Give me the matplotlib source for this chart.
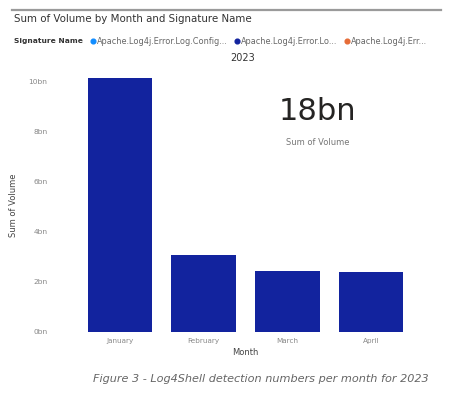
import matplotlib.pyplot as plt
from matplotlib.lines import Line2D

months = ["January", "February", "March", "April"]
volume_bn = [10.1, 3.07, 2.44, 2.40]
yticks_bn = [0, 2, 4, 6, 8, 10]
legend_names = ["Apache.Log4j.Error.Log.Config...", "Apache.Log4j.Error.Lo...", "Apache.Log4j.Err..."]
legend_colors = ["#118DFF", "#12239E", "#E66C37"]
total_label = "18bn"

W, H = 453, 395
fig = plt.figure(figsize=(W / 100, H / 100), dpi=100)
fig.patch.set_facecolor("white")

def fx(px):
    return px / W

def fy(py):
    return 1 - py / H

# top separator line
fig.add_artist(Line2D([fx(12), fx(441)], [fy(9.5), fy(9.5)], color="#9a9a9a", lw=1.6))

fig.text(fx(14), fy(19), "Sum of Volume by Month and Signature Name",
         fontsize=7.4, color="#333333", va="center", ha="left")

# legend row
fig.text(fx(14), fy(41), "Signature Name", fontsize=5.4, color="#333333",
         fontweight="bold", va="center", ha="left")
xs = [93, 237, 347]
for x, name, c in zip(xs, legend_names, legend_colors):
    fig.add_artist(Line2D([fx(x)], [fy(41)], marker="o", ms=3.4, color=c, lw=0))
    fig.text(fx(x + 4), fy(41), name, fontsize=5.9, color="#666666", va="center", ha="left")

fig.text(fx(243), fy(58), "2023", fontsize=7, color="#333333", va="center", ha="center")

# axes: y=0 at 332px, 25.1 px per bn
ymax = 10.3
px_per_bn = 25.1
ax = fig.add_axes([fx(78), fy(332), fx(413) - fx(78), ymax * px_per_bn / H])
ax.bar(range(len(months)), volume_bn, width=0.77, color="#12239E")
ax.set_ylim(0, ymax)
ax.set_xlim(-0.5, 3.5)
ax.set_yticks(yticks_bn)
ax.set_yticklabels([f"{v}bn" for v in yticks_bn])
ax.set_xticks(range(len(months)))
ax.set_xticklabels(months)
ax.tick_params(axis="both", length=0, labelcolor="#888888")
ax.tick_params(axis="y", pad=22, labelsize=5.4)
ax.tick_params(axis="x", pad=4, labelsize=5.2)
for s in ax.spines.values():
    s.set_visible(False)
ax.set_xlabel("Month", fontsize=6, color="#444444", labelpad=3)
ax.set_ylabel("Sum of Volume", fontsize=6, color="#444444")
ax.yaxis.set_label_coords(fx(18 - 78) / (fx(413) - fx(78)), 0.49)

# card
fig.text(fx(318), fy(112), total_label, fontsize=22, color="#252423", va="center", ha="center")
fig.text(fx(318), fy(143), "Sum of Volume", fontsize=6, color="#777777", va="center", ha="center")

fig.text(fx(261), fy(379), "Figure 3 - Log4Shell detection numbers per month for 2023",
         fontsize=8.1, color="#666666", style="italic", va="center", ha="center")

fig.savefig("out.png", dpi=100)
